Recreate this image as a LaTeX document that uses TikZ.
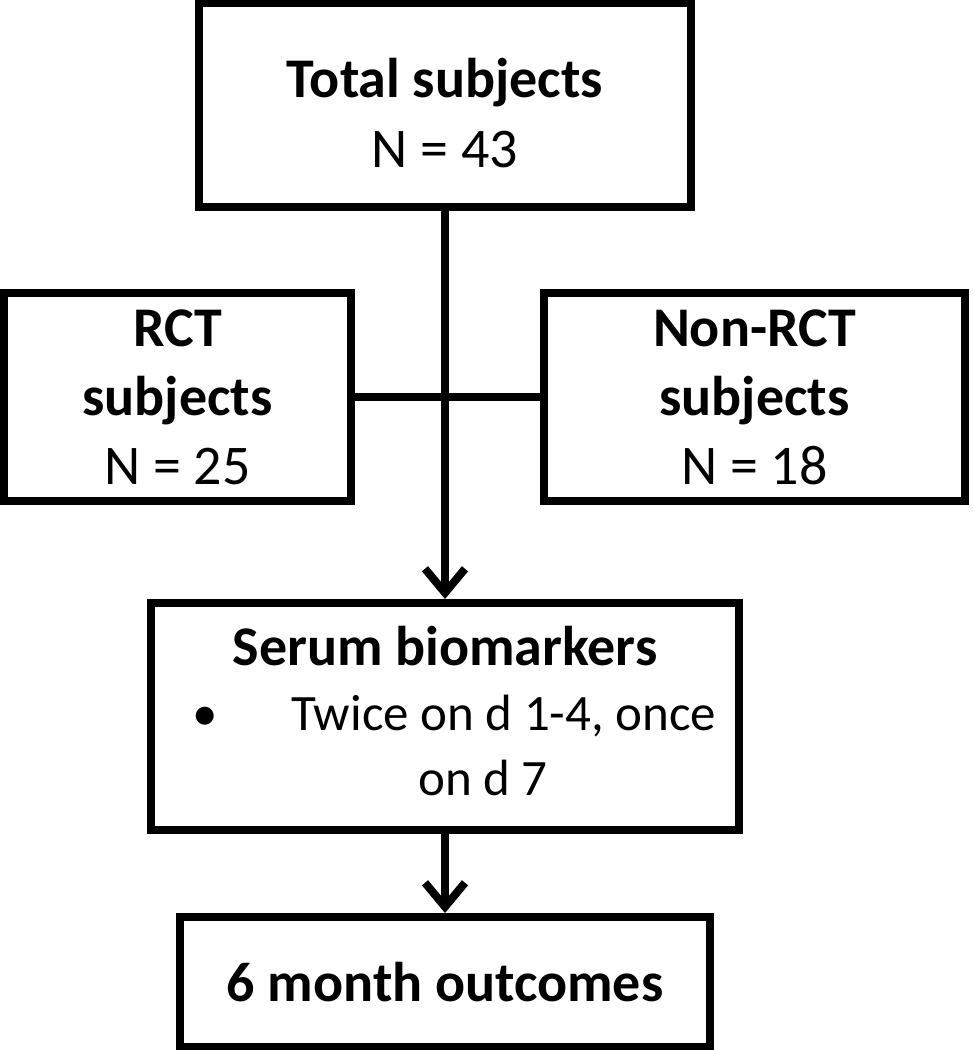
\documentclass[tikz,border=0pt]{standalone}
\usepackage{fontspec}
\setmainfont{Carlito}
\usetikzlibrary{arrows.meta}

\begin{document}
\begin{tikzpicture}
        [x=1pt, y=-1pt,
        box/.style={draw, line width=8pt, minimum width=#1, inner sep=0pt, align=center,
                font=\fontsize{56}{69}\selectfont},
        label/.style={inner sep=0pt, font=\fontsize{51}{64}\selectfont},
        link/.style={line width=8pt, black},
        flow/.style={link, -{Straight Barb[length=24pt, width=40pt]}}]

        \useasboundingbox (0,0) rectangle (973,1050);

        % boxes
        \node[box=492pt, minimum height=204pt] (total) at (445,105) {\rule{0pt}{56pt}\textbf{Total subjects}\\[1pt]N = 43};
        \node[box=347pt, minimum height=208pt] (rct) at (177.5,397) {\textbf{RCT}\\\textbf{subjects}\\N = 25};
        \node[box=421pt, minimum height=208pt] (nonrct) at (754.5,397) {\textbf{Non-RCT}\\\textbf{subjects}\\N = 18};
        \node[box=588pt, minimum height=227pt] (serum) at (445,716.5) {};
        \node[box=530pt, minimum height=130pt] (outcome) at (445,982) {\textbf{6 month outcomes}};

        % text of the serum box
        \node[label, anchor=base, font=\fontsize{56}{69}\selectfont\bfseries] (serumtitle) at (445,665) {Serum biomarkers};
        \node[label, anchor=base] (dot) at (205,730) {\textbullet};
        \node[label, anchor=base west] (twice) at (291,730) {Twice on d 1-4, once};
        \node[label, anchor=base west] (once) at (418,795) {on d 7};

        % connectors
        \draw[link] (rct.east) -- (nonrct.west);
        \draw[flow] (total.south) -- (serum.north);
        \draw[flow] (serum.south) -- (outcome.north);

        \end{tikzpicture}
\end{document}
